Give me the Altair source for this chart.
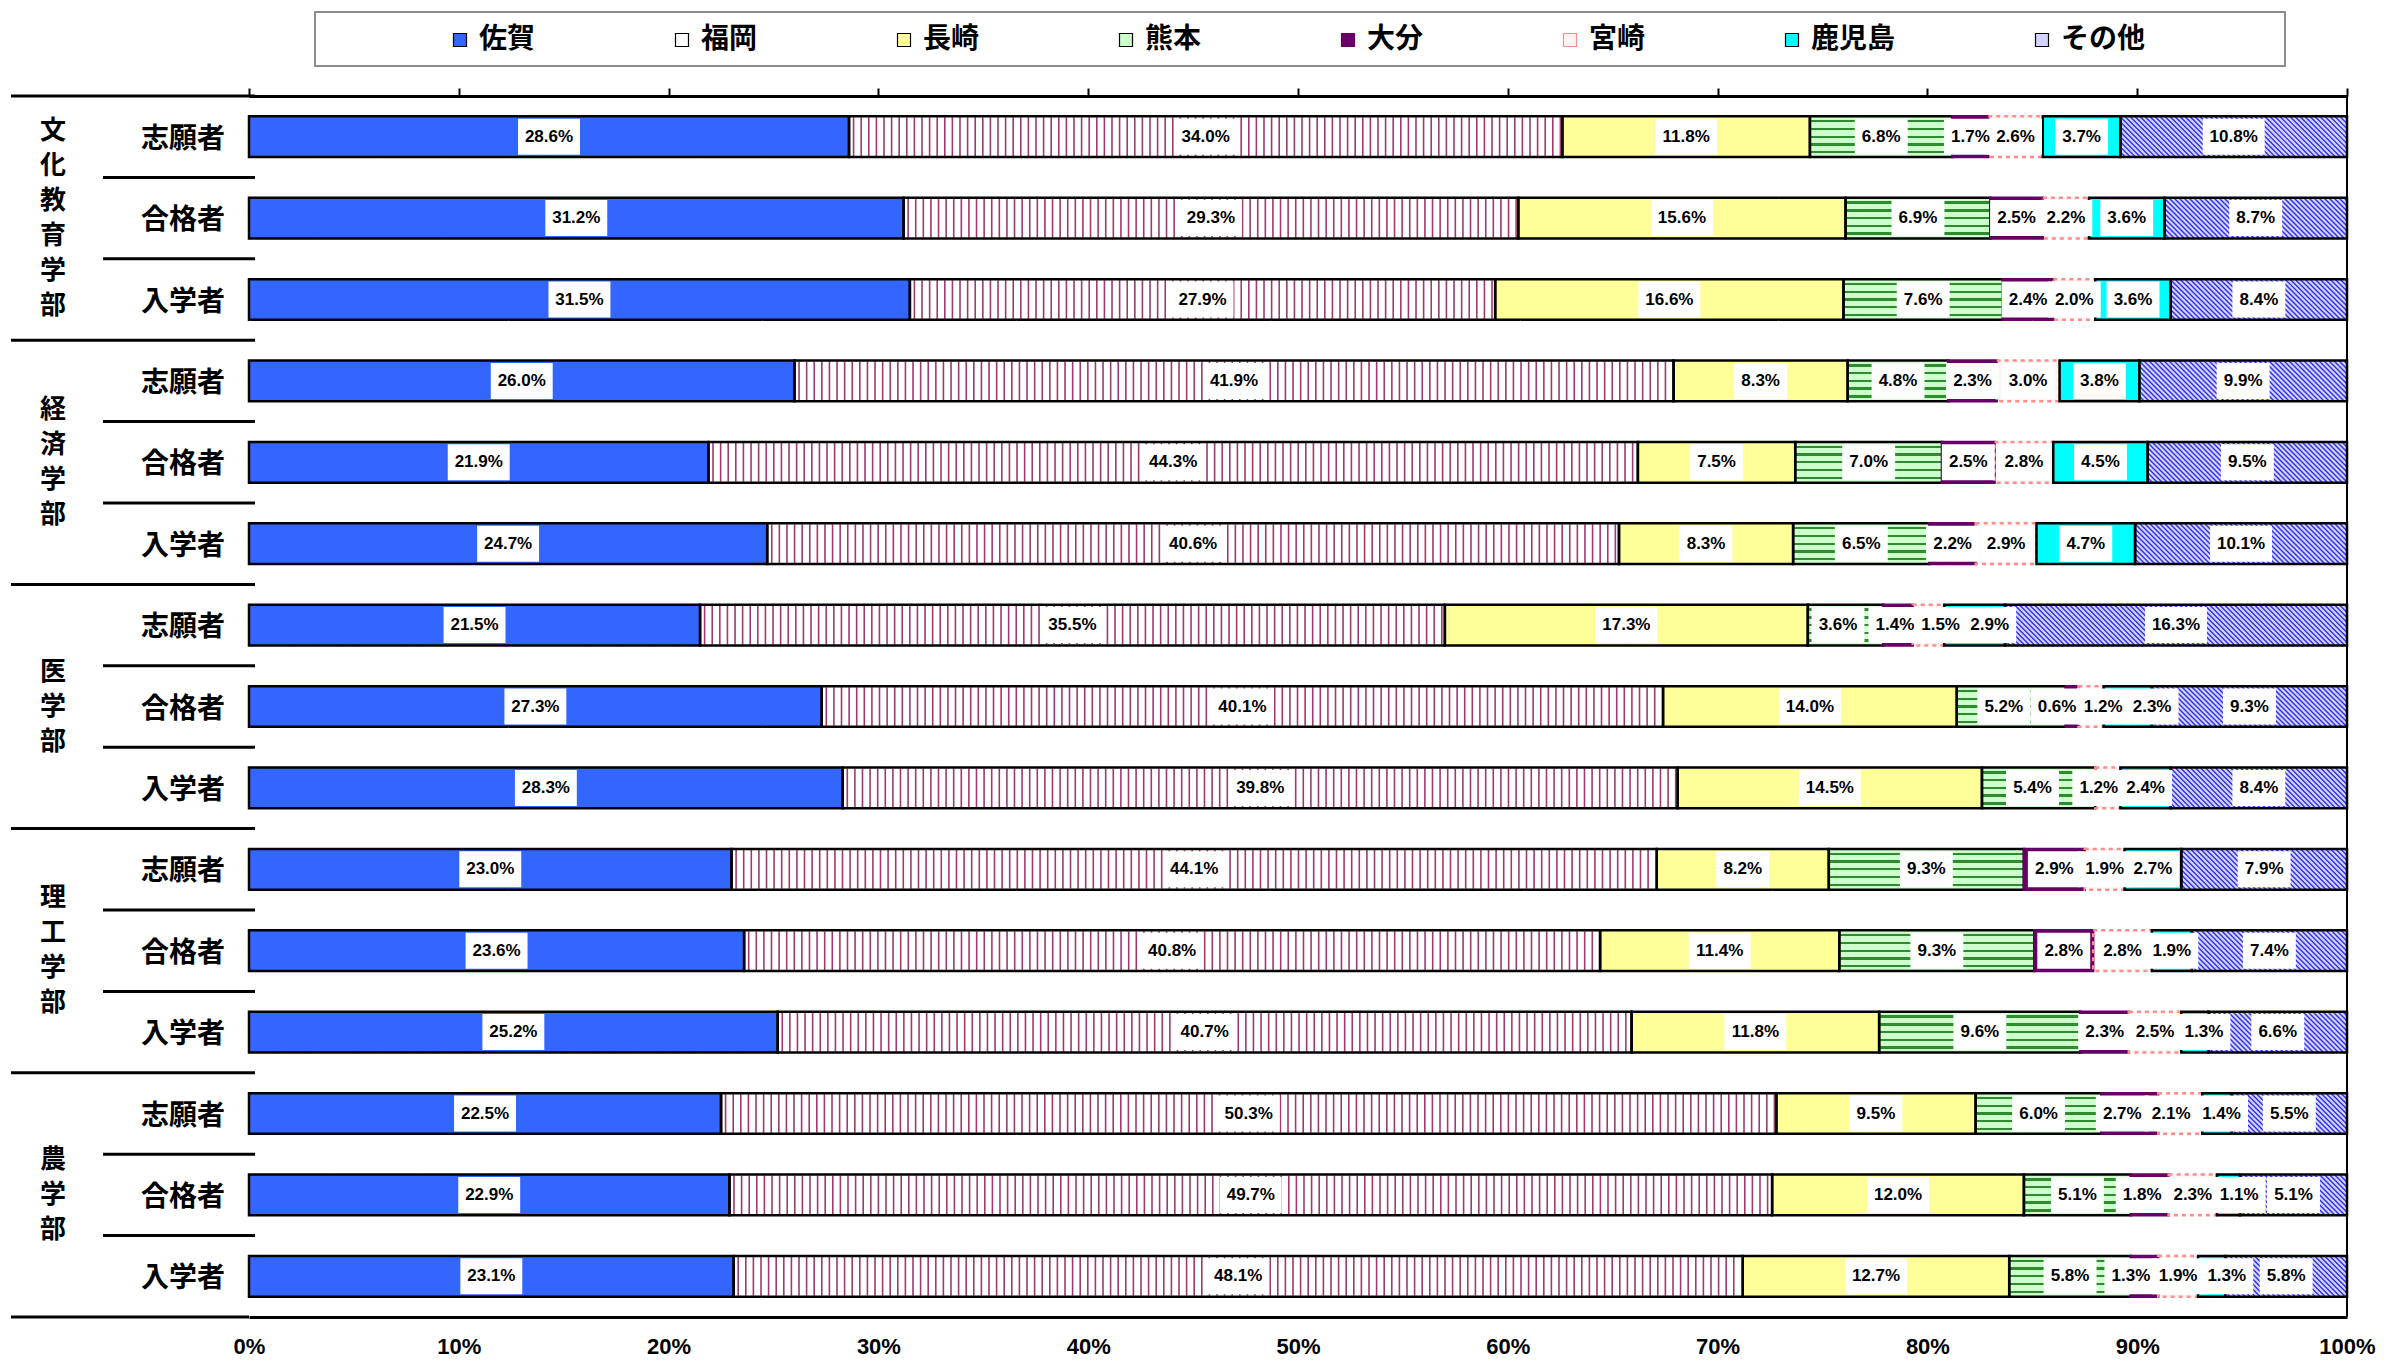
import altair as alt
import pandas as pd

faculties = ["文化教育学部", "経済学部", "医学部", "理工学部", "農学部"]
stages = ["志願者", "合格者", "入学者"]
series = ["佐賀", "福岡", "長崎", "熊本", "大分", "宮崎", "鹿児島", "その他"]
x_ticks = [0, 10, 20, 30, 40, 50, 60, 70, 80, 90, 100]

saga      = [28.6, 31.2, 31.5, 26.0, 21.9, 24.7, 21.5, 27.3, 28.3, 23.0, 23.6, 25.2, 22.5, 22.9, 23.1]
fukuoka   = [34.0, 29.3, 27.9, 41.9, 44.3, 40.6, 35.5, 40.1, 39.8, 44.1, 40.8, 40.7, 50.3, 49.7, 48.1]
nagasaki  = [11.8, 15.6, 16.6, 8.3, 7.5, 8.3, 17.3, 14.0, 14.5, 8.2, 11.4, 11.8, 9.5, 12.0, 12.7]
kumamoto  = [6.8, 6.9, 7.6, 4.8, 7.0, 6.5, 3.6, 5.2, 5.4, 9.3, 9.3, 9.6, 6.0, 5.1, 5.8]
oita      = [1.7, 2.5, 2.4, 2.3, 2.5, 2.2, 1.4, 0.6, 0.0, 2.9, 2.8, 2.3, 2.7, 1.8, 1.3]
miyazaki  = [2.6, 2.2, 2.0, 3.0, 2.8, 2.9, 1.5, 1.2, 1.2, 1.9, 2.8, 2.5, 2.1, 2.3, 1.9]
kagoshima = [3.7, 3.6, 3.6, 3.8, 4.5, 4.7, 2.9, 2.3, 2.4, 2.7, 1.9, 1.3, 1.4, 1.1, 1.3]
other     = [10.8, 8.7, 8.4, 9.9, 9.5, 10.1, 16.3, 9.3, 8.4, 7.9, 7.4, 6.6, 5.5, 5.1, 5.8]

values = [saga, fukuoka, nagasaki, kumamoto, oita, miyazaki, kagoshima, other]

# label nudges (percentage points) where the reference moved crowded labels apart
label_nudge = {
    (6, "熊本"): -0.36, (6, "大分"): -0.15, (6, "宮崎"): 0.58, (6, "鹿児島"): 0.72,
    (7, "熊本"): -0.36, (7, "大分"): -0.72, (7, "宮崎"): 0.58, (7, "鹿児島"): 1.16,
    (8, "熊本"): -0.29, (8, "宮崎"): -0.43,
    (11, "鹿児島"): 0.43,
    (12, "大分"): -0.36, (12, "宮崎"): -0.43, (12, "鹿児島"): 0.22,
    (13, "大分"): -0.36, (13, "鹿児島"): 0.51,
    (14, "大分"): -0.65, (14, "鹿児島"): 0.72,
}

W, H = 2098, 1221
PX = 100.0 / W
BAR_PX = H / 15 * 0.5

rows = [f"{f}|{s}" for f in faculties for s in stages]

recs = []
for i, r in enumerate(rows):
    start = 0.0
    for sname, vals in zip(series, values):
        v = vals[i]
        end = min(start + v, 100.0)
        recs.append(dict(row=r, stage=r.split("|")[1], series=sname, value=v,
                         start=start, end=end,
                         mid=(start + end) / 2 + label_nudge.get((i, sname), 0.0),
                         label=f"{v:.1f}%"))
        start += v
df = pd.DataFrame(recs)

# vertical stripes for 福岡, diagonal hatch for その他 (derived from segment extents)
stripe_gap = 7.6 * PX
stripes = []
for rec in df[df.series == "福岡"].itertuples():
    x = rec.start + stripe_gap * 0.6
    while x < rec.end - 1.5 * PX:
        stripes.append(dict(row=rec.row, x=x))
        x += stripe_gap
df_stripes = pd.DataFrame(stripes)

hatch_gap = 5.0 * PX
half = BAR_PX / 2 * PX
hatch = []
for rec in df[df.series == "その他"].itertuples():
    x = rec.start - half
    while x < rec.end + half:
        hatch.append(dict(row=rec.row, x=x))
        x += hatch_gap
df_hatch = pd.DataFrame(hatch)

fill_range = ["#3366FF", "#FFFFFF", "#FFFF99", "#CCFFCC", "#660066", "#FFF4F4", "#00FFFF", "#D4D4FF"]
stroke_range = ["#000000", "#000000", "#000000", "#000000", "#660066", "#FF8C8C", "#000000", "#000000"]

yscale = alt.Scale(domain=rows, paddingInner=0, paddingOuter=0)
xscale = alt.Scale(domain=[0, 100], nice=False, zero=True)
Y = alt.Y("row:N", scale=yscale, axis=None)
XN = dict(scale=xscale, axis=None)

LABEL_FONT = "Liberation Sans"
JP_FONT = "Noto Sans CJK JP"

bar_h = alt.RelativeBandSize(band=0.5)

# 1. background of その他
other_bg = alt.Chart(df).transform_filter("datum.series == 'その他'").mark_bar(
    height=bar_h, fill="#D4D4FF", strokeWidth=0
).encode(x=alt.X("start:Q", **XN), x2="end:Q", y=Y)

# 2. hatch lines
hatch_layer = alt.Chart(df_hatch).mark_point(
    shape="M-1,-1L1,1", size=(BAR_PX - 1) ** 2, filled=False, color="#2E2EF0",
    strokeWidth=1.4, opacity=1, clip=True
).encode(x=alt.X("x:Q", **XN), y=Y)

# 3. main fills (with x/y axes and the legend)
main = alt.Chart(df).transform_filter("datum.series != 'その他'").mark_bar(
    height=bar_h, strokeWidth=0
).encode(
    x=alt.X("start:Q", scale=xscale, axis=alt.Axis(
        orient="bottom", values=x_ticks, labelExpr="datum.value + '%'",
        ticks=False, domainWidth=3, domainColor="black", grid=False, title=None,
        labelFont=LABEL_FONT, labelFontSize=22, labelFontWeight="bold",
        labelColor="black", labelPadding=19, labelFlush=False, labelOverlap=False)),
    x2="end:Q",
    y=alt.Y("row:N", scale=yscale, axis=alt.Axis(
        labels=False, ticks=False, domainWidth=4, domainColor="black",
        grid=False, title=None)),
    fill=alt.Fill("series:N", scale=alt.Scale(domain=series, range=fill_range),
                  legend=alt.Legend(
                      orient="none", legendX=197, legendY=-70, direction="horizontal",
                      columnPadding=132, symbolType="square", symbolSize=169,
                      symbolStrokeColor="black", symbolStrokeWidth=1.2, symbolOpacity=1,
                      labelFont=JP_FONT, labelFontSize=28, labelFontWeight="bold",
                      labelColor="black", labelOffset=5, title=None, padding=0)),
)

# 4. 熊本 horizontal stripes via gradient
c_bg, c_ln = "#CCFFCC", "#2E8B2E"
stops = [alt.GradientStop(offset=0, color=c_bg)]
for c in [0.12, 0.31, 0.5, 0.69, 0.88]:
    stops += [alt.GradientStop(offset=c - 0.028, color=c_bg),
              alt.GradientStop(offset=c - 0.028, color=c_ln),
              alt.GradientStop(offset=c + 0.028, color=c_ln),
              alt.GradientStop(offset=c + 0.028, color=c_bg)]
stops.append(alt.GradientStop(offset=1, color=c_bg))
grad = alt.LinearGradient(gradient="linear", stops=stops, x1=0, x2=0, y1=0, y2=1)
kuma = alt.Chart(df).transform_filter("datum.series == '熊本'").mark_bar(
    height=bar_h, fill=grad, strokeWidth=0
).encode(x=alt.X("start:Q", **XN), x2="end:Q", y=Y)

# 5. 福岡 vertical stripes
stripe_layer = alt.Chart(df_stripes).mark_tick(
    thickness=1.6, size=BAR_PX - 2, color="#9E3A6E", opacity=1
).encode(x=alt.X("x:Q", **XN), y=Y)

# 6. segment outlines
outline = alt.Chart(df).transform_filter("datum.value > 0").mark_bar(
    height=bar_h, fillOpacity=0, strokeWidth=2.5
).encode(
    x=alt.X("start:Q", **XN), x2="end:Q", y=Y,
    stroke=alt.Stroke("series:N", scale=alt.Scale(domain=series, range=stroke_range), legend=None),
    strokeDash=alt.condition("datum.series == '宮崎'", alt.value([4, 4]), alt.value([1, 0])),
)

# 7. label boxes + texts
lab = alt.Chart(df).transform_filter("datum.value > 0").transform_calculate(n="length(datum.label)")
box5 = lab.transform_filter("datum.n >= 5").mark_point(
    shape="M-1.72,-1H1.72V1H-1.72Z", size=1296, filled=True, color="white", opacity=1, strokeWidth=0
).encode(x=alt.X("mid:Q", **XN), y=Y)
box4 = lab.transform_filter("datum.n < 5").mark_point(
    shape="M-1.47,-1H1.47V1H-1.47Z", size=1296, filled=True, color="white", opacity=1, strokeWidth=0
).encode(x=alt.X("mid:Q", **XN), y=Y)
texts = lab.mark_text(
    font=LABEL_FONT, fontSize=17, fontWeight="bold", color="black", baseline="middle", align="center"
).encode(x=alt.X("mid:Q", **XN), y=Y, text="label:N")

# 8. frame: top axis with ticks, right border
frame_df = pd.DataFrame({"x": x_ticks})
top_axis = alt.Chart(frame_df).transform_filter("datum.x == 100").mark_rule(
    color="black", strokeWidth=2
).encode(
    x=alt.X("x:Q", scale=xscale, axis=alt.Axis(
        orient="top", values=x_ticks, labels=False, ticks=True, tickSize=8,
        tickWidth=2, tickColor="black", domainWidth=3, domainColor="black",
        grid=False, title=None)),
    y=alt.value(0), y2=alt.value(H),
)

# 9. left label area: separators, stage labels, faculty labels
sep_df = pd.DataFrame({"row": rows, "idx": list(range(len(rows)))})
sep_long = alt.Chart(sep_df).transform_filter("datum.idx % 3 == 0").mark_rule(
    color="black", strokeWidth=3
).encode(x=alt.value(-238), x2=alt.value(6),
         y=alt.Y("row:N", scale=yscale, axis=None, bandPosition=0))
sep_short = alt.Chart(sep_df).transform_filter("datum.idx % 3 != 0").mark_rule(
    color="black", strokeWidth=3
).encode(x=alt.value(-146), x2=alt.value(6),
         y=alt.Y("row:N", scale=yscale, axis=None, bandPosition=0))
sep_bottom = alt.Chart(sep_df).transform_filter(f"datum.idx == {len(rows) - 1}").mark_rule(
    color="black", strokeWidth=3
).encode(x=alt.value(-238), x2=alt.value(0),
         y=alt.Y("row:N", scale=yscale, axis=None, bandPosition=1))

stage_df = pd.DataFrame({"row": rows, "stage": [r.split("|")[1] for r in rows]})
stage_txt = alt.Chart(stage_df).mark_text(
    font=JP_FONT, fontSize=28, fontWeight="bold", color="black", align="right",
    baseline="middle", dy=3
).encode(x=alt.value(-24), y=Y, text="stage:N")

LINE_H = 35
fac_layers = []
for f in faculties:
    fdf = pd.DataFrame({"row": [f"{f}|合格者"], "txt": ["\n".join(list(f))]})
    fac_layers.append(alt.Chart(fdf).mark_text(
        font=JP_FONT, fontSize=26, fontWeight="bold", color="black", align="center",
        baseline="middle", lineBreak="\n", lineHeight=LINE_H,
        dy=-(len(f) - 1) * LINE_H / 2
    ).encode(x=alt.value(-196), y=Y, text="txt:N"))

# 10. legend box
box_df = pd.DataFrame({"k": [0]})
legend_box = alt.Chart(box_df).mark_rect(
    fill="white", stroke="#8C8C8C", strokeWidth=2
).encode(x=alt.value(66), x2=alt.value(2036), y=alt.value(-84), y2=alt.value(-30))

chart = alt.layer(
    legend_box, other_bg, hatch_layer, main, kuma, stripe_layer, outline,
    box5, box4, texts, top_axis, sep_long, sep_short, sep_bottom,
    stage_txt, *fac_layers
).resolve_axis(x="independent").properties(
    width=W, height=H,
    autosize=alt.AutoSizeParams(type="none"),
    padding={"left": 241, "top": 88, "right": 29, "bottom": 41},
).configure_view(stroke="transparent")

chart.save("out.html", embed_options={"renderer": "svg", "actions": False})
